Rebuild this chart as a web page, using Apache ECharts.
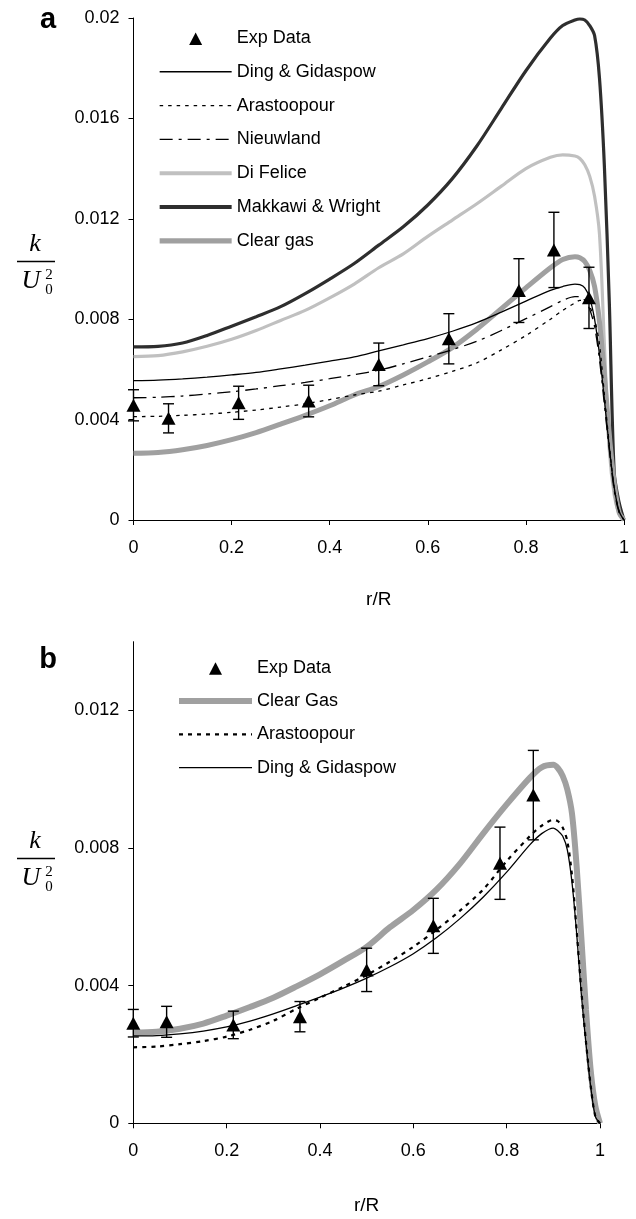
<!DOCTYPE html>
<html>
<head>
<meta charset="utf-8">
<script src="https://cdn.jsdelivr.net/npm/echarts@6/dist/echarts.min.js"></script>
<style>
  html, body { margin: 0; padding: 0; background: #fff; }
  #chart { width: 636px; height: 1219px; }
</style>
</head>
<body>
<div id="chart"></div>
<script>
// ---------- Panel a: turbulent kinetic energy profiles ----------
const rA = [0, 0.05, 0.1, 0.15, 0.2, 0.25, 0.3, 0.35, 0.4, 0.45, 0.5, 0.55, 0.6, 0.65, 0.7, 0.75, 0.8, 0.85, 0.875, 0.9, 0.91, 0.92, 0.93, 0.94, 0.95, 0.96, 0.97, 0.98, 0.99, 1.0];

const dingA = [0.00555, 0.00557, 0.00562, 0.00569, 0.00578, 0.00588, 0.00602, 0.00617, 0.00633, 0.0065, 0.00674, 0.00698, 0.00723, 0.00752, 0.00786, 0.00828, 0.00872, 0.00915, 0.0093, 0.0094, 0.00938, 0.00925, 0.00885, 0.008, 0.0066, 0.0048, 0.0029, 0.0013, 0.00035, 0];
const arastoopourA = [0.00412, 0.00413, 0.00417, 0.00422, 0.00429, 0.00438, 0.0045, 0.00463, 0.0048, 0.00498, 0.00513, 0.00538, 0.00563, 0.00592, 0.00626, 0.00678, 0.00735, 0.008, 0.00835, 0.00865, 0.00875, 0.00875, 0.0085, 0.008, 0.007, 0.005, 0.003, 0.0013, 0.00035, 0];
const nieuwlandA = [0.00487, 0.00489, 0.00494, 0.00502, 0.00511, 0.00522, 0.00535, 0.00548, 0.00563, 0.00579, 0.00597, 0.00622, 0.0065, 0.00679, 0.00712, 0.00755, 0.00802, 0.0085, 0.00875, 0.0089, 0.0089, 0.00875, 0.0084, 0.0077, 0.0064, 0.0046, 0.0028, 0.0012, 0.0003, 0];
const diFeliceA = [0.00651, 0.00655, 0.0067, 0.00692, 0.0072, 0.00755, 0.00795, 0.00835, 0.00885, 0.0094, 0.01005, 0.0106, 0.0113, 0.01195, 0.0126, 0.0133, 0.014, 0.01445, 0.01455, 0.0145, 0.0144, 0.01415, 0.0137, 0.0129, 0.0114, 0.007, 0.0028, 0.001, 0.00025, 0];
const makkawiA = [0.0069, 0.00692, 0.00705, 0.00735, 0.00772, 0.0081, 0.0085, 0.00902, 0.0096, 0.01022, 0.01095, 0.01168, 0.01255, 0.0136, 0.0149, 0.0164, 0.0179, 0.0192, 0.0197, 0.01992, 0.01996, 0.01992, 0.0197, 0.0193, 0.0176, 0.0141, 0.0087, 0.0019, 0.0007, 0];
const clearGasA = [0.00266, 0.00269, 0.0028, 0.00297, 0.0032, 0.00348, 0.00382, 0.00417, 0.00455, 0.00498, 0.00532, 0.00578, 0.0063, 0.00687, 0.0076, 0.00842, 0.00925, 0.01005, 0.01038, 0.01049, 0.01045, 0.0103, 0.00995, 0.0093, 0.0079, 0.0058, 0.0034, 0.0015, 0.0003, 0];

const expRA = [0, 0.0714, 0.2143, 0.3571, 0.5, 0.6429, 0.7857, 0.8571, 0.9286];
const expA = [0.00457, 0.00405, 0.00467, 0.00474, 0.0062, 0.00722, 0.00914, 0.01076, 0.00885];
const errA = [0.00062, 0.00058, 0.00066, 0.00063, 0.00085, 0.001, 0.00127, 0.0015, 0.00122];

// ---------- Panel b ----------
const rB = [0, 0.05, 0.1, 0.15, 0.2, 0.25, 0.3, 0.35, 0.4, 0.45, 0.5, 0.55, 0.6, 0.65, 0.7, 0.75, 0.8, 0.85, 0.875, 0.9, 0.91, 0.92, 0.93, 0.94, 0.95, 0.96, 0.97, 0.98, 0.99, 1.0];

const clearGasB = [0.00263, 0.00266, 0.00275, 0.0029, 0.00313, 0.00338, 0.00365, 0.00398, 0.00433, 0.00472, 0.00513, 0.0057, 0.0062, 0.0068, 0.00755, 0.00843, 0.00927, 0.01005, 0.01035, 0.01042, 0.01032, 0.0101, 0.0097, 0.009, 0.00746, 0.0054, 0.0033, 0.00155, 0.0005, 0];
const arastoopourB = [0.00221, 0.00223, 0.0023, 0.00239, 0.00252, 0.00272, 0.00298, 0.00333, 0.00365, 0.00397, 0.00431, 0.0047, 0.00513, 0.00563, 0.00618, 0.0068, 0.00762, 0.00835, 0.00865, 0.00882, 0.00878, 0.0086, 0.0082, 0.0072, 0.0056, 0.00385, 0.00235, 0.0011, 0.0002, 0];
const dingB = [0.00254, 0.00255, 0.0026, 0.00268, 0.0028, 0.00297, 0.00318, 0.00342, 0.00367, 0.00393, 0.00422, 0.00455, 0.00493, 0.0054, 0.00595, 0.00658, 0.0073, 0.0081, 0.00842, 0.00858, 0.0085, 0.00835, 0.00795, 0.007, 0.00552, 0.00375, 0.0023, 0.00108, 0.0002, 0];

const expRB = [0, 0.0714, 0.2143, 0.3571, 0.5, 0.6429, 0.7857, 0.8571];
const expB = [0.00291, 0.00295, 0.00286, 0.0031, 0.00446, 0.00574, 0.00756, 0.00954];
const errB = [0.0004, 0.00045, 0.0004, 0.00044, 0.00063, 0.0008, 0.00105, 0.0013];

const yTicksA = [0, 0.004, 0.008, 0.012, 0.016, 0.02];
const yTicksB = [0, 0.004, 0.008, 0.012];

const SANS = '"Liberation Sans", Arial, sans-serif';
const SERIF = '"Liberation Serif", "Times New Roman", serif';

function pairs(xs, ys) { return xs.map((x, i) => [x, ys[i]]); }

function curve(name, gi, xs, ys, color, width, type, z) {
  return {
    type: 'line', name: name, xAxisIndex: gi, yAxisIndex: gi,
    data: pairs(xs, ys), showSymbol: false, symbol: 'circle',
    smooth: 0.3, z: z || 2, silent: true,
    lineStyle: { color: color, width: width, type: type || 'solid' },
    itemStyle: { color: color }
  };
}

function errorBars(gi, xs, ys, es) {
  return {
    type: 'custom', name: 'err' + gi, xAxisIndex: gi, yAxisIndex: gi,
    data: xs.map((x, i) => [x, ys[i], es[i]]), clip: false, z: 5, silent: true,
    renderItem: function (params, api) {
      const x = api.value(0), y = api.value(1), e = api.value(2);
      const p1 = api.coord([x, y + e]);
      const p2 = api.coord([x, y - e]);
      const hw = 5.5;
      const st = { stroke: '#000', lineWidth: 1.4 };
      return {
        type: 'group', children: [
          { type: 'line', shape: { x1: p1[0], y1: p1[1], x2: p2[0], y2: p2[1] }, style: st },
          { type: 'line', shape: { x1: p1[0] - hw, y1: p1[1], x2: p1[0] + hw, y2: p1[1] }, style: st },
          { type: 'line', shape: { x1: p2[0] - hw, y1: p2[1], x2: p2[0] + hw, y2: p2[1] }, style: st }
        ]
      };
    }
  };
}

function expPoints(gi, xs, ys) {
  return {
    type: 'scatter', name: 'Exp Data', xAxisIndex: gi, yAxisIndex: gi,
    data: pairs(xs, ys), symbol: 'triangle', symbolSize: [14, 13],
    itemStyle: { color: '#000', opacity: 1 }, z: 6, silent: true
  };
}

function xAxisCfg(gi, gap) {
  return {
    type: 'value', gridIndex: gi, min: 0, max: 1, interval: 0.2,
    name: 'r/R', nameLocation: 'middle', nameGap: gap,
    nameTextStyle: { fontFamily: SANS, fontSize: 19, color: '#000' },
    axisLine: { show: true, onZero: false, lineStyle: { color: '#000', width: 1 } },
    axisTick: { show: true, inside: false, length: 5, lineStyle: { color: '#000' } },
    axisLabel: { fontFamily: SANS, fontSize: 18, color: '#000', margin: 19 },
    splitLine: { show: false }
  };
}

function yAxisCfg(gi, max, ticks) {
  return {
    type: 'value', gridIndex: gi, min: 0, max: max, interval: 0.004,
    axisLine: { show: true, onZero: false, lineStyle: { color: '#000', width: 1 } },
    axisTick: { show: true, inside: false, length: 5, lineStyle: { color: '#000' }, customValues: ticks },
    axisLabel: { fontFamily: SANS, fontSize: 18, color: '#000', margin: 14, customValues: ticks },
    splitLine: { show: false }
  };
}

// k / U0^2 axis title drawn as a stacked fraction
function fraction(dy) {
  const f = 'italic 26px ' + SERIF;
  return [
    { type: 'text', x: 35, y: 244 + dy, style: { text: 'k', font: f, fill: '#000', textAlign: 'center', textVerticalAlign: 'middle' } },
    { type: 'line', shape: { x1: 17, y1: 261.5 + dy, x2: 55, y2: 261.5 + dy }, style: { stroke: '#000', lineWidth: 1.3 } },
    { type: 'text', x: 31, y: 281 + dy, style: { text: 'U', font: f, fill: '#000', textAlign: 'center', textVerticalAlign: 'middle' } },
    { type: 'text', x: 49, y: 275 + dy, style: { text: '2', font: '15px ' + SERIF, fill: '#000', textAlign: 'center', textVerticalAlign: 'middle' } },
    { type: 'text', x: 49, y: 290 + dy, style: { text: '0', font: '15px ' + SERIF, fill: '#000', textAlign: 'center', textVerticalAlign: 'middle' } }
  ];
}

const legendText = { fontFamily: SANS, fontSize: 18, color: '#000' };
// triangle marker centred in a wide legend slot
const triIcon = 'path://M0,0M72,14M29.5,14L36,1.5L42.5,14Z';
const expLegendItem = { name: 'Exp Data', icon: triIcon, itemStyle: { opacity: 1, color: '#000' } };
function lineItem(name, width, extra) {
  return { name: name, lineStyle: Object.assign({ width: width }, extra || {}) };
}

const option = {
  backgroundColor: '#fff',
  animation: false,
  grid: [
    { left: 133.5, top: 18, width: 490.5, height: 502, containLabel: false },
    { left: 133.3, top: 641.7, width: 466.7, height: 481.6, containLabel: false }
  ],
  xAxis: [xAxisCfg(0, 70), xAxisCfg(1, 73)],
  yAxis: [yAxisCfg(0, 0.02, yTicksA), yAxisCfg(1, 0.014, yTicksB)],
  legend: [
    {
      orient: 'vertical', left: 157, top: 29, padding: 0, itemWidth: 72, itemHeight: 14, itemGap: 15.8,
      selectedMode: false, textStyle: legendText, itemStyle: { opacity: 0 },
      data: [
        expLegendItem,
        lineItem('Ding & Gidaspow', 1.4),
        lineItem('Arastoopour', 1.4),
        lineItem('Nieuwland', 1.4),
        lineItem('Di Felice', 4),
        lineItem('Makkawi & Wright', 4),
        lineItem('Clear gas', 5.3)
      ]
    },
    {
      orient: 'vertical', left: 176, top: 658.7, padding: 0, itemWidth: 73, itemHeight: 14, itemGap: 15.3,
      selectedMode: false, textStyle: legendText, itemStyle: { opacity: 0 },
      data: [
        expLegendItem,
        lineItem('Clear Gas', 6),
        lineItem('Arastoopour', 2.2, { type: [4, 5], color: '#000' }),
        lineItem('Ding & Gidaspow', 1.4)
      ]
    }
  ],
  graphic: [
    { type: 'text', x: 48, y: 34, style: { text: 'a', font: 'bold 29px ' + SANS, fill: '#000', textAlign: 'center', textVerticalAlign: 'bottom' } },
    { type: 'text', x: 48, y: 674, style: { text: 'b', font: 'bold 29px ' + SANS, fill: '#000', textAlign: 'center', textVerticalAlign: 'bottom' } }
  ].concat(fraction(0), fraction(597)),
  series: [
    curve('Ding & Gidaspow', 0, rA, dingA, '#000', 1.3, 'solid', 3),
    curve('Arastoopour', 0, rA, arastoopourA, '#000', 1.3, [3.5, 5], 3),
    curve('Nieuwland', 0, rA, nieuwlandA, '#000', 1.3, [13, 6, 3, 6], 3),
    curve('Di Felice', 0, rA, diFeliceA, '#c0c0c0', 3.2, 'solid', 2),
    curve('Makkawi & Wright', 0, rA, makkawiA, '#2e2e2e', 3.2, 'solid', 2),
    curve('Clear gas', 0, rA, clearGasA, '#a0a0a0', 5, 'solid', 2),
    errorBars(0, expRA, expA, errA),
    expPoints(0, expRA, expA),

    curve('Clear Gas', 1, rB, clearGasB, '#a0a0a0', 6, 'solid', 2),
    curve('Arastoopour', 1, rB, arastoopourB, '#000', 2.2, [4, 5], 3),
    curve('Ding & Gidaspow', 1, rB, dingB, '#000', 1.3, 'solid', 3),
    errorBars(1, expRB, expB, errB),
    expPoints(1, expRB, expB)
  ]
};

const chart = echarts.init(document.getElementById('chart'), null, { renderer: 'canvas' });
chart.setOption(option);
</script>
</body>
</html>
